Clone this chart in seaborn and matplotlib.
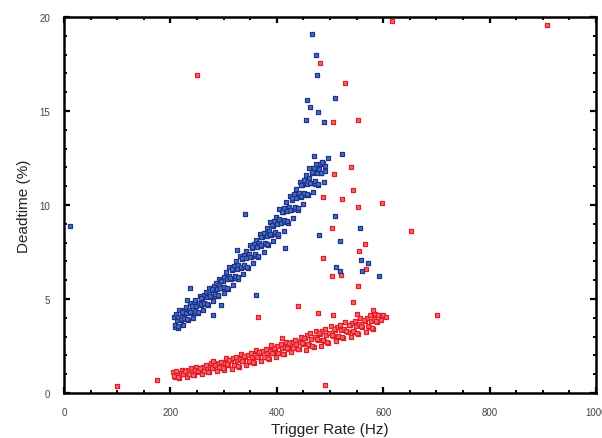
import matplotlib
matplotlib.use("Agg")
from matplotlib import pyplot as plt
from matplotlib.ticker import MultipleLocator
import seaborn as sns
import pandas as pd

# Blue series: main band (two interleaved reads of the band) + scattered points
blue_band_rate = [
    206, 209, 212, 214, 217, 220, 222, 225, 228, 230, 233, 236, 238, 241, 244, 246, 249, 252, 255, 257,
    260, 263, 265, 268, 271, 273, 276, 279, 282, 284, 287, 290, 292, 295, 298, 300, 303, 306, 308, 311,
    314, 316, 319, 322, 325, 327, 330, 333, 335, 338, 341, 343, 346, 349, 352, 354, 357, 360, 362, 365,
    368, 370, 373, 376, 379, 381, 384, 387, 389, 392, 395, 397, 400, 403, 405, 408, 411, 413, 416, 419,
    421, 424, 427, 429, 432, 435, 437, 440, 443, 445, 448, 451, 453, 456, 459, 461, 464, 467, 470, 472,
    475, 478, 481, 484, 487, 490,
    208, 210, 214, 215, 219, 221, 224, 226, 230, 231, 235, 237, 240, 242, 246, 247, 251, 253, 257, 258,
    262, 264, 267, 269, 273, 274, 278, 280, 284, 285, 289, 291, 294, 296, 300, 301, 305, 307, 310, 312,
    316, 317, 321, 323, 327, 328, 332, 334, 337, 339, 343, 344, 348, 350, 354, 355, 359, 361, 364, 366,
    370, 371, 375, 377, 381, 382, 386, 388, 391, 393, 397, 398, 402, 404, 407, 409, 413, 414, 418, 420,
    423, 425, 429, 430, 434, 436, 439, 441, 445, 446, 450, 452, 455, 457, 461, 462, 466, 468, 472, 473,
    477, 479, 483, 485, 489, 491,
]
blue_band_dead = [
    4.02, 3.53, 3.89, 3.48, 4.39, 3.90, 4.24, 4.40, 3.91, 4.25, 3.86, 4.77, 4.26, 4.62, 4.78, 4.27, 4.63, 4.25, 5.17, 4.67,
    5.04, 5.21, 4.71, 5.08, 4.70, 5.60, 5.12, 5.50, 5.67, 5.17, 5.54, 5.16, 6.06, 5.58, 5.95, 6.19, 5.56, 6.05, 5.52, 6.72,
    6.09, 6.54, 6.76, 6.13, 6.62, 6.09, 7.29, 6.66, 7.11, 7.33, 6.70, 7.16, 6.66, 7.86, 7.23, 7.69, 7.91, 7.29, 7.75, 7.26,
    8.47, 7.81, 8.30, 8.52, 7.90, 8.36, 7.87, 9.07, 8.42, 8.90, 9.13, 8.47, 8.98, 8.37, 9.80, 9.03, 9.62, 9.86, 9.09, 9.68,
    9.03, 10.50, 9.73, 10.28, 10.56, 9.80, 10.36, 9.76, 11.24, 10.44, 11.04, 11.32, 10.52, 11.12, 10.52, 11.95, 11.15, 11.71, 11.95, 11.12,
    11.68, 11.04, 12.20, 11.68, 12.24, 12.10,
    3.61, 4.20, 3.56, 4.04, 3.93, 4.29, 3.63, 3.99, 4.58, 3.92, 4.42, 4.31, 4.65, 4.01, 4.37, 4.94, 4.30, 4.81, 4.71, 5.06,
    4.43, 4.80, 5.38, 4.75, 5.26, 5.14, 5.51, 4.89, 5.26, 5.84, 5.21, 5.72, 5.60, 5.97, 5.34, 5.65, 6.43, 5.61, 6.25, 6.11,
    6.60, 5.74, 6.22, 7.00, 6.18, 6.82, 6.68, 7.17, 6.31, 6.79, 7.57, 6.72, 7.39, 7.25, 7.74, 6.89, 7.37, 8.16, 7.31, 7.99,
    7.86, 8.32, 7.50, 7.98, 8.77, 7.92, 8.60, 8.46, 8.93, 8.10, 8.59, 9.34, 8.45, 9.26, 9.06, 9.65, 8.64, 9.20, 10.16, 9.15,
    9.92, 9.76, 10.35, 9.30, 9.90, 10.87, 9.83, 10.65, 10.50, 11.06, 10.06, 10.66, 11.59, 10.59, 11.41, 11.19, 11.75, 10.71, 11.27, 12.17,
    11.13, 11.91, 11.72, 12.28, 11.24, 11.80,
]
blue_out_rate = [11, 467, 473, 475, 456, 510, 462, 477, 454, 488, 469, 522, 497, 340, 236, 231, 295, 281,
                 360, 325, 415, 510, 479, 518, 557, 559, 572, 561, 512, 518, 593]
blue_out_dead = [8.9, 19.1, 18.0, 16.9, 15.6, 15.7, 15.2, 14.95, 14.5, 14.4, 12.6, 12.7, 12.5, 9.5, 5.6, 4.95, 4.7, 4.15,
                 5.2, 7.6, 7.7, 9.4, 8.4, 8.1, 8.8, 7.1, 6.9, 6.5, 6.7, 6.5, 6.2]

# Red series
red_band_rate = [
    205, 209, 213, 217, 221, 225, 229, 233, 237, 241, 245, 249, 253, 257, 261, 265, 269, 273, 277, 281,
    285, 289, 293, 297, 301, 305, 309, 313, 317, 321, 325, 329, 333, 337, 341, 345, 349, 353, 357, 361,
    365, 369, 373, 377, 381, 385, 389, 393, 397, 401, 405, 409, 413, 417, 421, 425, 429, 433, 437, 441,
    445, 449, 453, 457, 461, 465, 469, 473, 477, 481, 485, 489, 493, 497, 501, 505, 509, 513, 517, 521,
    525, 529, 533, 537, 541, 545, 549, 553, 557, 561, 565, 569, 573, 577, 581, 585, 589, 593,
    207, 211, 215, 219, 223, 227, 231, 235, 239, 243, 247, 251, 255, 259, 263, 267, 271, 275, 279, 283,
    287, 291, 295, 299, 303, 307, 311, 315, 319, 323, 327, 331, 335, 339, 343, 347, 351, 355, 359, 363,
    367, 371, 375, 379, 383, 387, 391, 395, 399, 403, 407, 411, 415, 419, 423, 427, 431, 435, 439, 443,
    447, 451, 455, 459, 463, 467, 471, 475, 479, 483, 487, 491, 495, 499, 503, 507, 511, 515, 519, 523,
    527, 531, 535, 539, 543, 547, 551, 555, 559, 563, 567, 571, 575, 579, 583, 587, 591,
]
red_band_dead = [
    1.10, 0.85, 1.02, 0.81, 1.25, 1.00, 1.17, 1.24, 0.99, 1.16, 0.95, 1.39, 1.14, 1.31, 1.39, 1.15, 1.32, 1.12, 1.57, 1.32,
    1.50, 1.58, 1.33, 1.51, 1.21, 1.87, 1.48, 1.74, 1.84, 1.47, 1.73, 1.40, 2.06, 1.68, 1.94, 2.04, 1.66, 1.92, 1.61, 2.27,
    1.89, 2.15, 2.25, 1.89, 2.15, 1.83, 2.49, 2.11, 2.38, 2.48, 2.12, 2.38, 2.07, 2.73, 2.36, 2.63, 2.73, 2.37, 2.63, 2.32,
    2.99, 2.61, 2.92, 3.06, 2.55, 2.88, 2.45, 3.32, 2.82, 3.15, 3.28, 2.77, 3.10, 2.68, 3.55, 3.04, 3.37, 3.50, 3.00, 3.33,
    2.90, 3.77, 3.26, 3.60, 3.73, 3.22, 3.55, 3.13, 4.01, 3.51, 3.85, 3.99, 3.49, 3.83, 3.41, 4.20, 3.79, 4.13,
    0.88, 1.17, 0.84, 1.08, 1.02, 1.19, 0.86, 1.02, 1.31, 0.98, 1.22, 1.16, 1.33, 1.00, 1.17, 1.47, 1.14, 1.39, 1.34, 1.51,
    1.19, 1.36, 1.65, 1.33, 1.61, 1.52, 1.77, 1.27, 1.51, 1.94, 1.45, 1.80, 1.71, 1.97, 1.47, 1.71, 2.13, 1.64, 2.01, 1.92,
    2.18, 1.68, 1.92, 2.36, 1.87, 2.23, 2.14, 2.40, 1.91, 2.15, 2.59, 2.10, 2.47, 2.38, 2.65, 2.16, 2.40, 2.84, 2.35, 2.72,
    2.64, 2.90, 2.29, 2.61, 3.18, 2.51, 2.98, 2.85, 3.19, 2.52, 2.83, 3.40, 2.73, 3.21, 3.08, 3.41, 2.74, 3.05, 3.63, 2.96,
    3.43, 3.30, 3.63, 2.97, 3.28, 3.85, 3.19, 3.67, 3.55, 3.89, 3.23, 3.55, 4.13, 3.47, 3.95, 3.83, 4.17,
]
red_out_rate = [250, 482, 529, 505, 553, 617, 908, 540, 507, 486, 523, 553, 544, 503, 486, 555, 565, 503, 521,
                553, 567, 544, 439, 364, 597, 653, 599, 595, 606, 702, 100, 174, 490, 281, 478, 505, 550,
                581, 409, 390]
red_out_dead = [16.9, 17.55, 16.5, 14.4, 14.5, 19.8, 19.6, 12.0, 11.65, 10.4, 10.3, 9.9, 10.8, 8.8, 7.2, 7.55, 7.9, 6.2, 6.3,
                5.7, 6.6, 4.85, 4.65, 4.05, 10.1, 8.6, 4.15, 3.9, 4.05, 4.15, 0.37, 0.69, 0.4, 1.7, 4.25, 4.15, 4.2,
                4.4, 2.9, 2.55]

red_df = pd.DataFrame({"rate": red_band_rate + red_out_rate, "dead": red_band_dead + red_out_dead})
blue_df = pd.DataFrame({"rate": blue_band_rate + blue_out_rate, "dead": blue_band_dead + blue_out_dead})

sns.set_style("ticks")
plt.rcParams["font.family"] = ["Liberation Sans", "DejaVu Sans"]

fig = plt.figure(figsize=(6.02, 4.39), dpi=100)
ax = fig.add_axes([64 / 602, 1 - 394 / 439, 532 / 602, 376 / 439])

sns.scatterplot(data=red_df, x="rate", y="dead", ax=ax, marker="s", s=12,
                color="#f26a70", edgecolor="#e41e26", linewidth=0.9, zorder=3)
sns.scatterplot(data=blue_df, x="rate", y="dead", ax=ax, marker="s", s=12,
                color="#3577c8", edgecolor="#27318a", linewidth=0.9, zorder=4)

ax.set_xlim(0, 1000)
ax.set_ylim(0, 20)
ax.xaxis.set_major_locator(MultipleLocator(200))
ax.xaxis.set_minor_locator(MultipleLocator(50))
ax.yaxis.set_major_locator(MultipleLocator(5))
ax.yaxis.set_minor_locator(MultipleLocator(1))
ax.tick_params(which="both", direction="in", top=True, right=True, color="black",
               labelsize=7, labelcolor="#444444", pad=10)
ax.tick_params(which="major", length=4, width=1.6)
ax.tick_params(which="minor", length=2.5, width=1.4)
for sp in ax.spines.values():
    sp.set_linewidth(1.8)
    sp.set_color("black")

ax.set_xlabel("Trigger Rate (Hz)", fontsize=11, color="#222222", labelpad=4)
ax.set_ylabel("Deadtime (%)", fontsize=11, color="#222222", labelpad=6)

fig.savefig("out.png", dpi=100)
